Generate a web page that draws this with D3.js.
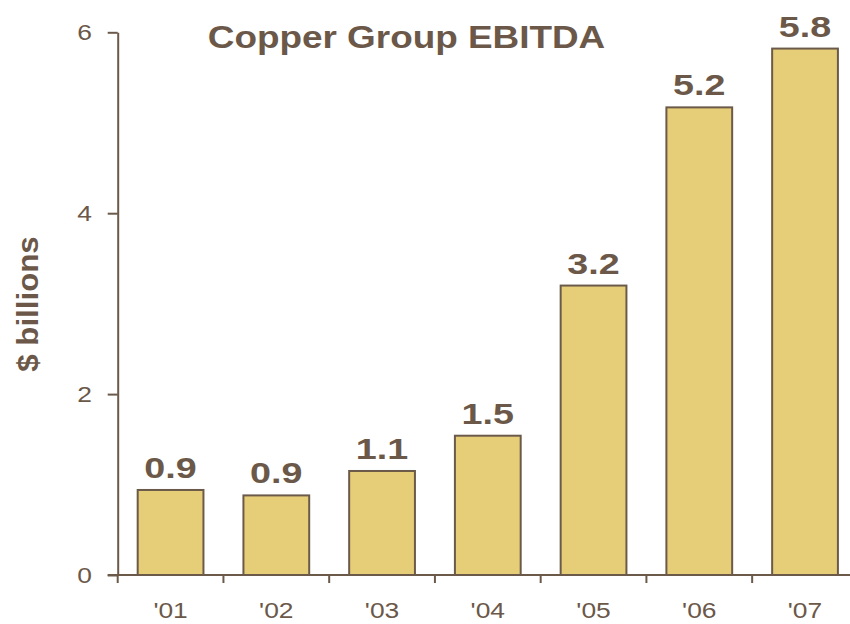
<!DOCTYPE html>
<html>
<head>
<meta charset="utf-8">
<script src="https://cdn.jsdelivr.net/npm/d3@7"></script>
<style>
  body { margin: 0; background: #fff; }
  text { font-family: "Liberation Sans", Arial, sans-serif; }
</style>
</head>
<body>
<div id="chart"></div>
<script>
// DATA
const years = ["'01", "'02", "'03", "'04", "'05", "'06", "'07"];
const ebitda = [0.94, 0.88, 1.15, 1.54, 3.2, 5.17, 5.82];
const valueLabels = ['0.9', '0.9', '1.1', '1.5', '3.2', '5.2', '5.8'];
const yTicks = [0, 2, 4, 6];

// VIZ DIMENSIONS + MOUNTING
const width = 850;
const height = 624;
const ink = '#6b5a4a';
const textInk = '#6b5849';
const barFill = '#e6cd77';

const svg = d3.select('#chart').append('svg')
  .attr('width', width)
  .attr('height', height);

const y = d3.scaleLinear()
  .domain([0, 6])
  .range([575, 32.3]);

const x = d3.scaleBand()
  .domain(years)
  .range([117.7, 857.9])
  .paddingInner(0.378)
  .paddingOuter(0.189);

const step = x.step();
const gap = step * x.paddingInner() / 2;

// bars
svg.selectAll('rect.bar')
  .data(years)
  .enter()
  .append('rect')
  .attr('class', 'bar')
  .attr('x', d => x(d))
  .attr('y', (d, i) => y(ebitda[i]))
  .attr('width', x.bandwidth())
  .attr('height', (d, i) => y(0) - y(ebitda[i]))
  .style('fill', barFill)
  .style('stroke', ink)
  .style('stroke-width', 2);

// y axis
const yAxis = svg.append('g')
  .attr('transform', `translate(${x.range()[0]},0)`)
  .call(d3.axisLeft(y).tickValues(yTicks).tickSize(10).tickSizeOuter(0).tickFormat(''));
yAxis.selectAll('path, line').style('stroke', ink).style('stroke-width', 2);

// x axis line + boundary ticks
svg.append('line')
  .attr('x1', x.range()[0] - 10)
  .attr('x2', width)
  .attr('y1', y(0))
  .attr('y2', y(0))
  .style('stroke', ink)
  .style('stroke-width', 2);

const bounds = years.map(d => x(d) - gap).concat([x(years[years.length - 1]) + x.bandwidth() + gap]);
svg.selectAll('line.xtick')
  .data(bounds)
  .enter()
  .append('line')
  .attr('class', 'xtick')
  .attr('x1', d => d)
  .attr('x2', d => d)
  .attr('y1', y(0))
  .attr('y2', y(0) + 8)
  .style('stroke', ink)
  .style('stroke-width', 2);

// y tick labels
svg.selectAll('text.ytick')
  .data(yTicks)
  .enter()
  .append('text')
  .attr('class', 'ytick')
  .attr('transform', d => `translate(92,${y(d)}) scale(1.2,1)`)
  .attr('dy', '0.36em')
  .style('text-anchor', 'end')
  .style('font-size', '22px')
  .style('fill', textInk)
  .text(d => d);

// x tick labels
svg.selectAll('text.xtick')
  .data(years)
  .enter()
  .append('text')
  .attr('class', 'xtick')
  .attr('transform', d => `translate(${x(d) + x.bandwidth() / 2},618) scale(1.2,1)`)
  .style('text-anchor', 'middle')
  .style('font-size', '22px')
  .style('fill', textInk)
  .text(d => d);

// value labels
svg.selectAll('text.value')
  .data(years)
  .enter()
  .append('text')
  .attr('class', 'value')
  .attr('transform', (d, i) => `translate(${x(d) + x.bandwidth() / 2},${y(ebitda[i]) - 12}) scale(1.3,1)`)
  .style('text-anchor', 'middle')
  .style('font-size', '29px')
  .style('font-weight', 'bold')
  .style('fill', textInk)
  .text((d, i) => valueLabels[i]);

// title
svg.append('text')
  .attr('transform', 'translate(406.5,48) scale(1.19,1)')
  .style('text-anchor', 'middle')
  .style('font-size', '31px')
  .style('font-weight', 'bold')
  .style('fill', textInk)
  .text('Copper Group EBITDA');

// y axis title
svg.append('text')
  .attr('transform', 'translate(38,304) rotate(-90) scale(1.25,1.19)')
  .style('text-anchor', 'middle')
  .style('font-size', '25px')
  .style('font-weight', 'bold')
  .style('fill', textInk)
  .text('$ billions');
</script>
</body>
</html>
